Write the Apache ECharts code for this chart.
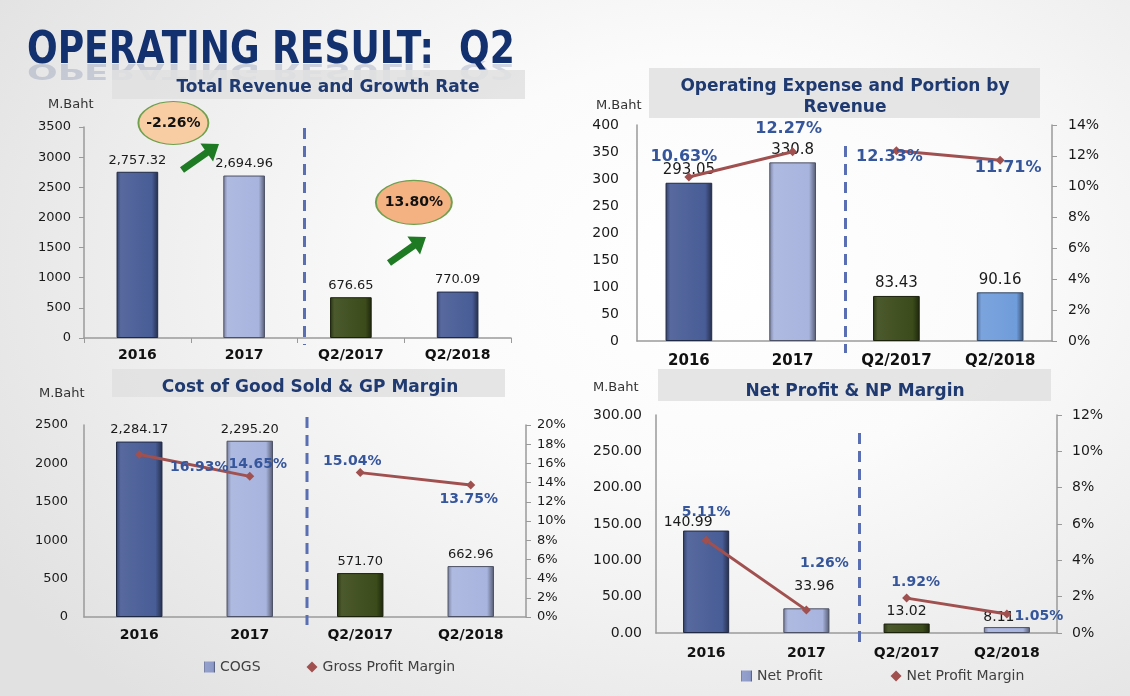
<!DOCTYPE html>
<html>
<head>
<meta charset="utf-8">
<script src="https://cdn.jsdelivr.net/npm/echarts@6/dist/echarts.min.js"></script>
<style>
  html, body { margin: 0; padding: 0; }
  #main {
    width: 1130px;
    height: 696px;
    background: radial-gradient(ellipse 75% 85% at 63% 38%, #ffffff 0%, #fbfbfb 35%, #e1e1e1 100%);
  }
</style>
</head>
<body>
<div id="main"></div>
<script>
  var categories = ['2016', '2017', 'Q2/2017', 'Q2/2018'];
  // 总收入 M.Baht
  var revenue = [2757.32, 2694.96, 676.65, 770.09];
  var revenueGrowth = ['-2.26%', '13.80%'];
  // 营业费用及占收入比例
  var opex = [293.05, 330.8, 83.43, 90.16];
  var opexPortion = [10.63, 12.27, 12.33, 11.71];
  // 销售成本 & 毛利率
  var cogs = [2284.17, 2295.20, 571.70, 662.96];
  var gpMargin = [16.93, 14.65, 15.04, 13.75];
  // 净利润 & 净利率
  var netProfit = [140.99, 33.96, 13.02, 8.11];
  var npMargin = [5.11, 1.26, 1.92, 1.05];

  var FONT = 'DejaVu Sans';
  var AXIS_GRAY = '#9a9a9a';
  var LINE_RED = '#a0504e';
  var PCT_BLUE = '#36569c';
  var NAVY = '#485c96', LAV = '#a8b4de', OLIVE = '#3b4b1a', SKY = '#6f9cda';

  function shade(hex, p) {
    var n = parseInt(hex.slice(1), 16);
    var rgb = [n >> 16, (n >> 8) & 255, n & 255].map(function (c) {
      return Math.round(p < 0 ? c * (1 + p) : c + (255 - c) * p);
    });
    return 'rgb(' + rgb.join(',') + ')';
  }
  // 斜面效果的柱子
  function bevel(c) {
    return new echarts.graphic.LinearGradient(0, 0, 1, 0, [
      { offset: 0, color: shade(c, -0.3) },
      { offset: 0.1, color: shade(c, 0.08) },
      { offset: 0.85, color: c },
      { offset: 1, color: shade(c, -0.5) }
    ]);
  }
  function comma2(v) {
    return v.toLocaleString('en-US', { minimumFractionDigits: 2, maximumFractionDigits: 2 });
  }
  function plain(v) { return String(v); }
  function pct(v) { return v + '%'; }

  function catAxis(grid, margin, size, ticks) {
    return {
      type: 'category', gridIndex: grid, data: categories,
      axisLine: { lineStyle: { color: AXIS_GRAY, width: 1.5 } },
      axisTick: { show: !!ticks, length: 5, lineStyle: { color: AXIS_GRAY } },
      axisLabel: { margin: margin, fontFamily: FONT, fontWeight: 'bold', fontSize: size, color: '#111' }
    };
  }
  function valAxis(grid, pos, max, step, fmt, margin, size, ticks) {
    return {
      type: 'value', gridIndex: grid, position: pos, min: 0, max: max, interval: step,
      axisLine: { show: true, lineStyle: { color: AXIS_GRAY, width: 1.5 } },
      axisTick: { show: !!ticks, length: 5, lineStyle: { color: AXIS_GRAY } },
      splitLine: { show: false },
      axisLabel: { margin: margin, fontFamily: FONT, fontSize: size, color: '#1a1a1a', formatter: fmt || plain }
    };
  }

  function barSeries(name, grid, yIdx, vals, colors, width, fmt, size, offsets, legendColor) {
    return {
      name: name, type: 'bar', xAxisIndex: grid, yAxisIndex: yIdx, barWidth: width,
      itemStyle: { color: legendColor },
      label: {
        show: true, position: 'top', fontFamily: FONT, fontSize: size, color: '#1a1a1a',
        formatter: function (p) { return fmt(p.value); }
      },
      data: vals.map(function (v, i) {
        var d = { value: v, itemStyle: { color: bevel(colors[i]), borderColor: shade(colors[i], -0.55), borderWidth: 1 } };
        if (offsets) d.label = { offset: offsets[i] };
        return d;
      })
    };
  }

  // 两段折线（年度 / 季度之间断开）
  function lineSeries(name, grid, yIdx, vals, offsets, size) {
    return [[0, 1], [2, 3]].map(function (seg) {
      return {
        name: name, type: 'line', xAxisIndex: grid, yAxisIndex: yIdx,
        symbol: 'diamond', symbolSize: 9, z: 5,
        lineStyle: { color: LINE_RED, width: 3 },
        itemStyle: { color: LINE_RED },
        label: {
          show: true, position: 'inside', fontFamily: FONT, fontWeight: 'bold', fontSize: size, color: PCT_BLUE,
          formatter: function (p) { return p.value.toFixed(2) + '%'; }
        },
        data: vals.map(function (v, i) {
          return seg.indexOf(i) < 0 ? '-' : { value: v, label: { offset: offsets[i] } };
        })
      };
    });
  }

  var chart = echarts.init(document.getElementById('main'));

  var series = [];
  var revBars = barSeries('Total Revenue', 0, 0, revenue, [NAVY, LAV, OLIVE, NAVY], '39%', comma2, 13, null, NAVY);
  revBars.markPoint = {
    symbol: 'circle',
    itemStyle: { borderColor: '#6fa04e', borderWidth: 1.5 },
    label: { show: true, formatter: '{b}', fontFamily: FONT, fontWeight: 'bold', fontSize: 14, color: '#111' },
    data: [
      { name: revenueGrowth[0], coord: [categories[0], 3500], symbolSize: [70, 43], symbolOffset: [36, -4], itemStyle: { color: '#f8cda4' } },
      { name: revenueGrowth[1], coord: [categories[2], 2250], symbolSize: [76, 44], symbolOffset: [63, 0], itemStyle: { color: '#f4b283' } }
    ]
  };
  series.push(revBars);
  series.push(barSeries('Operating Expense', 1, 1, opex, [NAVY, LAV, OLIVE, SKY], '45%', plain, 15, null, NAVY));
  series = series.concat(lineSeries('Portion by Revenue', 1, 2, opexPortion, [[-5, -20], [-4, -23], [-7, 6], [8, 8]], 16));
  series.push(barSeries('COGS', 2, 3, cogs, [NAVY, LAV, OLIVE, LAV], '42%', comma2, 13, null, bevel('#8c99c8')));
  series = series.concat(lineSeries('Gross Profit Margin', 2, 4, gpMargin, [[60, 13], [8, -12], [-8, -11], [-2, 14]], 14));
  series.push(barSeries('Net Profit', 3, 5, netProfit, [NAVY, LAV, OLIVE, LAV], '46%', plain, 14, [[-18, 4], [8, -10], [0, 0], [-8, 2]], bevel('#8c99c8')));
  series = series.concat(lineSeries('Net Profit Margin', 3, 6, npMargin, [[0, -28], [18, -47], [9, -16], [32, 2]], 14));

  function arrow(x1, y1, x2, y2) {
    var dx = x2 - x1, dy = y2 - y1, L = Math.sqrt(dx * dx + dy * dy);
    var ux = dx / L, uy = dy / L, nx = -uy, ny = ux;
    var hw = 3.5, hh = 11, hl = 15;
    var bx = x2 - ux * hl, by = y2 - uy * hl;
    return [[x1 + nx * hw, y1 + ny * hw], [bx + nx * hw, by + ny * hw], [bx + nx * hh, by + ny * hh], [x2, y2],
      [bx - nx * hh, by - ny * hh], [bx - nx * hw, by - ny * hw], [x1 - nx * hw, y1 - ny * hw]];
  }
  function titleText(text, x, y) {
    return { type: 'text', z: 4, x: x, y: y, style: { text: text, font: 'bold 17px "DejaVu Sans"', fill: '#1f3a70', align: 'center', verticalAlign: 'middle' } };
  }
  function unitText(x, y) {
    return { type: 'text', z: 4, x: x, y: y, style: { text: 'M.Baht', font: '13px "DejaVu Sans"', fill: '#333', align: 'left', verticalAlign: 'middle' } };
  }

  var option = {
    animation: false,
    textStyle: { fontFamily: FONT },
    grid: [
      { left: 84, top: 127, width: 427, height: 211 },
      { left: 637, top: 125, width: 415, height: 216 },
      { left: 84, top: 425, width: 442, height: 192 },
      { left: 656, top: 415, width: 401, height: 218 }
    ],
    xAxis: [catAxis(0, 10, 14, true), catAxis(1, 13, 15), catAxis(2, 11, 14), catAxis(3, 13, 14)],
    yAxis: [
      valAxis(0, 'left', 3500, 500, null, 13, 13, true),
      valAxis(1, 'left', 400, 50, null, 18, 14),
      valAxis(1, 'right', 14, 2, pct, 16, 14, true),
      valAxis(2, 'left', 2500, 500, null, 16, 13),
      valAxis(2, 'right', 20, 2, pct, 11, 13, true),
      valAxis(3, 'left', 300, 50, function (v) { return v.toFixed(2); }, 14, 14),
      valAxis(3, 'right', 12, 2, pct, 15, 14, true)
    ],
    legend: [
      {
        data: [{ name: 'COGS', icon: 'rect' }, { name: 'Gross Profit Margin', icon: 'diamond' }],
        left: 199, top: 655, itemWidth: 11, itemHeight: 11, itemGap: 46,
        textStyle: { fontFamily: FONT, fontSize: 14, color: '#404040' }
      },
      {
        data: [{ name: 'Net Profit', icon: 'rect' }, { name: 'Net Profit Margin', icon: 'diamond' }],
        left: 736, top: 664, itemWidth: 11, itemHeight: 11, itemGap: 68,
        textStyle: { fontFamily: FONT, fontSize: 14, color: '#404040' }
      }
    ],
    series: series
  };
  chart.setOption(option);

  // 年度与季度之间的虚线分隔
  function sep(gi, dx, y1, y2) {
    var a = chart.convertToPixel({ xAxisIndex: gi }, categories[1]);
    var b = chart.convertToPixel({ xAxisIndex: gi }, categories[2]);
    var x = (a + b) / 2 + dx;
    return { type: 'line', z: 3, shape: { x1: x, y1: y1, x2: x, y2: y2 }, style: { stroke: '#5a6eb4', lineWidth: 3, lineDash: [11, 7] } };
  }

  var TITLE = 'OPERATING RESULT:  Q2';
  chart.setOption({
    graphic: [
      {
        type: 'text', x: 27, y: 59, scaleX: 0.82, scaleY: -0.5, z: 1,
        style: { text: TITLE, font: 'bold 44px "DejaVu Sans"', verticalAlign: 'bottom', fill: 'rgba(60,80,130,0.2)' }
      },
      {
        type: 'text', x: 27, y: 52, scaleX: 0.82, z: 2,
        style: { text: TITLE, font: 'bold 44px "DejaVu Sans"', fill: '#13306f', verticalAlign: 'middle' }
      },
      { type: 'rect', z: 3, shape: { x: 112, y: 70, width: 413, height: 29 }, style: { fill: 'rgba(225,225,225,0.85)' } },
      { type: 'rect', z: 3, shape: { x: 649, y: 68, width: 391, height: 50 }, style: { fill: 'rgba(225,225,225,0.85)' } },
      { type: 'rect', z: 3, shape: { x: 112, y: 369, width: 393, height: 28 }, style: { fill: 'rgba(225,225,225,0.85)' } },
      { type: 'rect', z: 3, shape: { x: 658, y: 369, width: 393, height: 32 }, style: { fill: 'rgba(225,225,225,0.85)' } },
      titleText('Total Revenue and Growth Rate', 328, 88),
      titleText('Operating Expense and Portion by', 845, 87),
      titleText('Revenue', 845, 108),
      titleText('Cost of Good Sold & GP Margin', 310, 388),
      titleText('Net Profit & NP Margin', 855, 392),
      unitText(48, 105), unitText(596, 106), unitText(39, 394), unitText(593, 388),
      { type: 'polygon', shape: { points: arrow(182, 170, 219, 144) }, style: { fill: '#1f7a24' } },
      { type: 'polygon', shape: { points: arrow(389, 263, 426, 237) }, style: { fill: '#1f7a24' } },
      sep(0, 7, 128, 345),
      sep(1, 1, 146, 353),
      sep(2, 2, 417, 625),
      sep(3, 3, 433, 642)
    ]
  });
</script>
</body>
</html>
